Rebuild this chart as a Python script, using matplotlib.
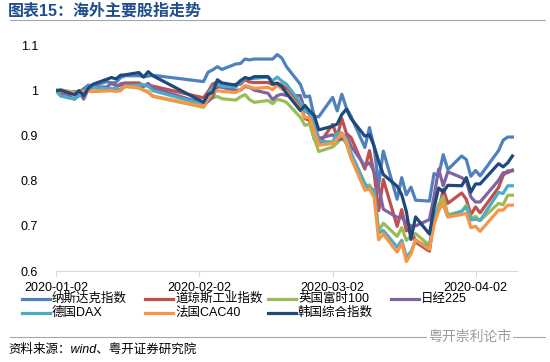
import matplotlib
matplotlib.use("Agg")
import matplotlib.pyplot as plt
import matplotlib.dates as mdates
from matplotlib.lines import Line2D
import pandas as pd

plt.rcParams['font.family'] = ['Liberation Sans', 'Noto Sans CJK SC']

# 交易日（中国节假日缺口：1/24-1/31、4/6）
dates = (list(pd.bdate_range('2020-01-02', '2020-01-23'))
         + list(pd.bdate_range('2020-02-03', '2020-03-31'))
         + [pd.Timestamp(d) for d in ['2020-04-01', '2020-04-02', '2020-04-03',
                                      '2020-04-07', '2020-04-08', '2020-04-09', '2020-04-10']])

nasdaq = [1.000, 0.992, 0.998, 0.997, 1.004, 1.012, 1.010, 1.020, 1.017, 1.018, 1.029, 1.033, 1.033, 1.031, 1.032, 1.034,
          1.020, 1.041, 1.046, 1.053, 1.047, 1.059, 1.060, 1.070, 1.068, 1.070, 1.070, 1.070, 1.080, 1.072, 1.053, 1.014, 0.986, 0.988, 0.942, 0.942,
          0.985, 0.955, 0.992, 0.961, 0.943, 0.874, 0.918, 0.875, 0.792, 0.866, 0.759, 0.807, 0.769, 0.786, 0.757, 0.755, 0.816, 0.812, 0.858, 0.825, 0.855, 0.847,
          0.810, 0.823, 0.811, 0.867, 0.890, 0.897, 0.897]
dow = [1.000, 0.992, 0.994, 0.990, 0.996, 1.003, 0.998, 1.001, 1.002, 1.006, 1.015, 1.017, 1.017, 1.011, 1.011, 1.010,
       0.984, 0.998, 1.015, 1.018, 1.008, 1.014, 1.014, 1.024, 1.019, 1.018, 1.018, 1.013, 1.017, 1.012, 1.004, 0.969, 0.938, 0.934, 0.893, 0.880,
       0.925, 0.898, 0.938, 0.905, 0.896, 0.826, 0.867, 0.816, 0.734, 0.803, 0.699, 0.736, 0.689, 0.696, 0.664, 0.644, 0.717, 0.734, 0.781, 0.750, 0.773, 0.759,
       0.725, 0.742, 0.729, 0.785, 0.812, 0.822, 0.822]
ftse = [1.000, 1.002, 0.996, 0.996, 0.996, 0.999, 0.998, 1.002, 1.002, 1.005, 1.001, 1.009, 1.006, 1.001, 0.996, 0.987,
        0.963, 0.978, 0.984, 0.987, 0.982, 0.979, 0.986, 0.991, 0.980, 0.974, 0.978, 0.971, 0.981, 0.978, 0.974, 0.941, 0.923, 0.926, 0.894, 0.865,
        0.875, 0.884, 0.896, 0.882, 0.850, 0.784, 0.791, 0.773, 0.689, 0.706, 0.677, 0.696, 0.668, 0.677, 0.683, 0.657, 0.716, 0.748, 0.765, 0.725, 0.732, 0.746,
        0.717, 0.721, 0.712, 0.750, 0.747, 0.768, 0.768]
nikkei = [1.000, 1.000, 0.981, 0.997, 0.981, 1.004, 1.008, 1.008, 1.016, 1.011, 1.012, 1.016, 1.009, 1.009, 1.016, 1.006,
          0.971, 0.976, 0.986, 1.009, 1.007, 1.001, 1.001, 1.009, 1.007, 1.001, 0.994, 0.980, 0.989, 0.992, 0.989, 0.989, 0.956, 0.948, 0.928, 0.894,
          0.902, 0.891, 0.892, 0.902, 0.877, 0.833, 0.840, 0.821, 0.785, 0.737, 0.719, 0.719, 0.707, 0.700, 0.700, 0.714, 0.765, 0.826, 0.789, 0.820, 0.807, 0.800,
          0.764, 0.753, 0.753, 0.801, 0.818, 0.818, 0.824]
dax = [1.000, 0.988, 0.981, 0.988, 0.995, 1.008, 1.007, 1.005, 1.005, 1.003, 1.003, 1.010, 1.012, 1.013, 1.010, 1.000,
       0.969, 0.992, 1.007, 1.014, 1.010, 1.008, 1.018, 1.027, 1.027, 1.027, 1.030, 1.022, 1.030, 1.021, 1.014, 0.974, 0.955, 0.954, 0.924, 0.888,
       0.886, 0.906, 0.906, 0.892, 0.862, 0.794, 0.783, 0.780, 0.684, 0.690, 0.653, 0.668, 0.631, 0.643, 0.667, 0.653, 0.725, 0.738, 0.747, 0.720, 0.733, 0.742,
       0.713, 0.715, 0.712, 0.774, 0.772, 0.789, 0.789]
cac = [1.000, 1.000, 0.995, 0.999, 0.998, 1.000, 0.999, 0.999, 1.000, 0.998, 1.000, 1.010, 1.006, 1.001, 0.998, 0.988,
       0.965, 0.982, 0.995, 1.000, 0.998, 0.996, 1.002, 1.011, 1.008, 1.005, 1.007, 1.002, 1.012, 1.004, 0.998, 0.959, 0.940, 0.940, 0.910, 0.879,
       0.883, 0.893, 0.905, 0.888, 0.851, 0.779, 0.782, 0.763, 0.669, 0.682, 0.642, 0.661, 0.621, 0.638, 0.670, 0.648, 0.702, 0.734, 0.752, 0.720, 0.725, 0.728,
       0.696, 0.699, 0.688, 0.735, 0.735, 0.746, 0.746]
kospi = [1.000, 1.001, 0.991, 1.000, 0.989, 1.005, 1.014, 1.025, 1.029, 1.026, 1.034, 1.035, 1.040, 1.030, 1.042, 1.033,
         0.974, 0.992, 0.996, 1.024, 1.017, 1.012, 1.022, 1.029, 1.026, 1.031, 1.031, 1.015, 1.016, 1.009, 0.994, 0.956, 0.967, 0.955, 0.945, 0.913,
         0.921, 0.926, 0.947, 0.959, 0.938, 0.899, 0.902, 0.877, 0.843, 0.814, 0.788, 0.769, 0.732, 0.670, 0.720, 0.682, 0.740, 0.784, 0.775, 0.790, 0.789, 0.807,
         0.775, 0.793, 0.793, 0.838, 0.831, 0.840, 0.855]

names = ['纳斯达克指数', '道琼斯工业指数', '英国富时100', '日经225', '德国DAX', '法国CAC40', '韩国综合指数']
series = [nasdaq, dow, ftse, nikkei, dax, cac, kospi]
colors = ['#4F81BD', '#C0504D', '#9BBB59', '#8064A2', '#4BACC6', '#F79646', '#1F497D']
tick_dates = ['2020-01-02', '2020-02-02', '2020-03-02', '2020-04-02']

W, H = 550, 362
fig = plt.figure(figsize=(W / 100, H / 100), dpi=100)
ax = fig.add_axes([56 / W, 1 - 271 / H, (517 - 56) / W, (271 - 45.5) / H])

for vals, c in zip(series, colors):
    ax.plot(dates, vals, color=c, lw=2.3, solid_joinstyle='round')

ax.set_ylim(0.6, 1.1)
ax.set_yticks([0.6, 0.7, 0.8, 0.9, 1.0, 1.1])
ax.set_yticklabels(['0.6', '0.7', '0.8', '0.9', '1', '1.1'])
ax.set_xlim(pd.Timestamp('2020-01-02'), pd.Timestamp('2020-04-11'))
ax.set_xticks([pd.Timestamp(d) for d in tick_dates])
ax.xaxis.set_major_formatter(mdates.DateFormatter('%Y-%m-%d'))
for s in ['left', 'right', 'top']:
    ax.spines[s].set_visible(False)
ax.spines['bottom'].set_color('#D9D9D9')
ax.tick_params(axis='x', length=4, color='#D9D9D9', pad=4, labelsize=9)
ax.tick_params(axis='y', length=0, pad=13, labelsize=9)

# 图例
for i, (name, c) in enumerate(zip(names, colors)):
    x0 = (22 + 123 * (i % 4)) / W
    y0 = 1 - (299 + 14 * (i // 4)) / H
    fig.add_artist(Line2D([x0, x0 + 28 / W], [y0, y0], color=c, lw=2.3, transform=fig.transFigure))
    fig.text(x0 + 30 / W, y0, name, fontsize=9, va='center')

# 标题与来源
fig.text(8 / W, 1 - 11 / H, '图表15：海外主要股指走势', fontsize=11.5, fontweight='bold',
         color='#1F4E8C', va='center')
fig.add_artist(Line2D([10 / W, 545 / W], [1 - 20 / H, 1 - 20 / H], color='#A6A6A6', lw=0.8,
                      transform=fig.transFigure))
fig.add_artist(Line2D([10 / W, 545 / W], [1 - 337 / H, 1 - 337 / H], color='#A6A6A6', lw=0.8,
                      transform=fig.transFigure))
fig.text(470 / W, 1 - 337 / H, '粤开崇利论市', fontsize=10, color='#9A9A9A', ha='center', va='center',
         bbox=dict(facecolor='white', edgecolor='none', pad=1))
fig.text(8 / W, 1 - 350 / H, '资料来源：wind、粤开证券研究院', fontsize=9, style='italic', va='center')

fig.savefig('out.png', dpi=100)
